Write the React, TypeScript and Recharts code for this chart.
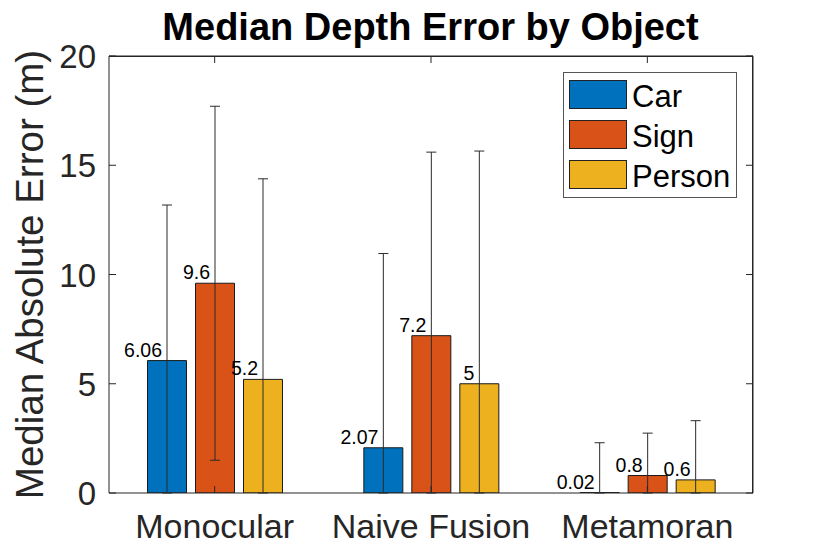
import React from 'react';
import { BarChart, Bar, XAxis, YAxis, ErrorBar, LabelList, Legend } from 'recharts';

const categories = ['Monocular', 'Naive Fusion', 'Metamoran'];
const carValues = [6.06, 2.07, 0.02];
const signValues = [9.6, 7.2, 0.8];
const personValues = [5.2, 5, 0.6];
const carErr = [7.12, 8.89, 2.28];
const signErr = [8.1, 8.4, 1.94];
const personErr = [9.18, 10.65, 2.71];
const yTicks = [0, 5, 10, 15, 20];
const seriesNames = ['Car', 'Sign', 'Person'];
const seriesColors = ['#0072BD', '#D95319', '#EDB120'];

const clipErr = (v: number, e: number) => [Math.min(v, e), e];

const data = categories.map((name, i) => ({
  name,
  car: carValues[i],
  sign: signValues[i],
  person: personValues[i],
  carErr: clipErr(carValues[i], carErr[i]),
  signErr: clipErr(signValues[i], signErr[i]),
  personErr: clipErr(personValues[i], personErr[i]),
}));

const FONT = "'Liberation Sans', Arial, Helvetica, sans-serif";
const AXIS = '#262626';

const YTick = (props: any) => {
  const { x, y, payload } = props;
  return (
    <g>
      <line x1={x + 13} x2={x + 20} y1={y} y2={y} stroke={AXIS} strokeWidth={1} />
      <text x={x} y={y} dy={12} textAnchor="end" fontSize={33} fontFamily={FONT} fill={AXIS}>
        {payload.value}
      </text>
    </g>
  );
};

const XTick = (props: any) => {
  const { x, y, payload } = props;
  return (
    <g>
      <line x1={x} x2={x} y1={y} y2={y - 7} stroke={AXIS} strokeWidth={1} />
      <text x={x} y={y + 45} textAnchor="middle" fontSize={34} fontFamily={FONT} fill={AXIS}>
        {payload.value}
      </text>
    </g>
  );
};

const TopTick = (props: any) => {
  const { x, y } = props;
  return <line x1={x} x2={x} y1={y} y2={y + 7} stroke={AXIS} strokeWidth={1} />;
};

const RightTick = (props: any) => {
  const { x, y } = props;
  return <line x1={x} x2={x - 7} y1={y} y2={y} stroke={AXIS} strokeWidth={1} />;
};

const ValueLabel = (props: any) => {
  const { x, y, width, value } = props;
  return (
    <text x={x + width / 2 - 5} y={y - 4} textAnchor="end" fontSize={19.5} fontFamily={FONT} fill="#000">
      {String(value)}
    </text>
  );
};

const YLabel = (props: any) => {
  const vb = props.viewBox || { x: 0, y: 57, width: 109, height: 436 };
  const cx = 43;
  const cy = vb.y + vb.height / 2;
  return (
    <text
      x={cx}
      y={cy}
      transform={`rotate(-90, ${cx}, ${cy})`}
      textAnchor="middle"
      fontSize={38.5}
      fontFamily={FONT}
      fill={AXIS}
    >
      Median Absolute Error (m)
    </text>
  );
};

const LegendBox = () => (
  <div
    style={{
      position: 'relative',
      width: 174,
      height: 126,
      border: '1px solid #555',
      boxSizing: 'border-box',
      background: '#fff',
      fontFamily: FONT,
    }}
  >
    {seriesNames.map((n, i) => (
      <React.Fragment key={n}>
        <div
          style={{
            position: 'absolute',
            left: 5,
            top: 7 + i * 40,
            width: 58,
            height: 29,
            background: seriesColors[i],
            border: '1px solid #222',
            boxSizing: 'border-box',
          }}
        />
        <div
          style={{
            position: 'absolute',
            left: 68,
            top: 8 + i * 40,
            fontSize: 31,
            lineHeight: '31px',
            color: '#000',
            whiteSpace: 'nowrap',
          }}
        >
          {n}
        </div>
      </React.Fragment>
    ))}
  </div>
);

export default function App() {
  const pad = { left: -2.5, right: -2.5 };
  return (
    <div style={{ position: 'absolute', left: 0, top: 0, width: 830, height: 554, background: '#fff' }}>
      <div
        style={{
          position: 'absolute',
          left: 109,
          width: 643,
          top: 8,
          textAlign: 'center',
          fontFamily: FONT,
          fontWeight: 'bold',
          fontSize: 38,
          lineHeight: '38px',
          color: '#000',
          whiteSpace: 'nowrap',
          zIndex: 2,
        }}
      >
        Median Depth Error by Object
      </div>
      {/* axes box frame (top and right edges) */}
      <div
        style={{
          position: 'absolute',
          left: 109,
          top: 56,
          width: 644,
          height: 437,
          borderTop: `1px solid ${AXIS}`,
          borderRight: `1px solid ${AXIS}`,
          boxSizing: 'border-box',
          pointerEvents: 'none',
          zIndex: 3,
        }}
      />
      <BarChart
        width={830}
        height={554}
        data={data}
        margin={{ top: 0, right: 0, bottom: 0, left: 0 }}
        barSize={39}
        barGap={9}
      >
        <XAxis
          dataKey="name"
          height={61}
          interval={0}
          padding={pad}
          tickSize={0}
          tickMargin={0}
          tickLine={false}
          tick={<XTick />}
          axisLine={{ stroke: AXIS, strokeWidth: 1 }}
        />
        <XAxis
          xAxisId="top"
          dataKey="name"
          orientation="top"
          height={56}
          interval={0}
          padding={pad}
          tickSize={0}
          tickMargin={0}
          tickLine={false}
          tick={<TopTick />}
          axisLine={{ stroke: AXIS, strokeWidth: 1 }}
        />
        <YAxis
          width={109}
          domain={[0, 20]}
          ticks={yTicks}
          allowDataOverflow
          tickSize={0}
          tickMargin={13}
          tickLine={false}
          tick={<YTick />}
          axisLine={{ stroke: AXIS, strokeWidth: 1 }}
          label={<YLabel />}
        />
        <YAxis
          yAxisId="right"
          orientation="right"
          width={77}
          domain={[0, 20]}
          ticks={yTicks}
          allowDataOverflow
          tickSize={0}
          tickMargin={0}
          tickLine={false}
          tick={<RightTick />}
          axisLine={{ stroke: AXIS, strokeWidth: 1 }}
        />
        <Legend
          layout="horizontal"
          verticalAlign="middle"
          align="center"
          wrapperStyle={{ position: 'absolute', left: 563, top: 72, width: 174, height: 126 }}
          content={() => <LegendBox />}
        />
        <Bar dataKey="car" name="Car" fill={seriesColors[0]} stroke="#1a1a1a" strokeWidth={1} isAnimationActive={false}>
          <ErrorBar dataKey="carErr" width={5} stroke="#2b2b2b" strokeWidth={1} direction="y" />
          <LabelList dataKey="car" content={<ValueLabel />} />
        </Bar>
        <Bar dataKey="sign" name="Sign" fill={seriesColors[1]} stroke="#1a1a1a" strokeWidth={1} isAnimationActive={false}>
          <ErrorBar dataKey="signErr" width={5} stroke="#2b2b2b" strokeWidth={1} direction="y" />
          <LabelList dataKey="sign" content={<ValueLabel />} />
        </Bar>
        <Bar dataKey="person" name="Person" fill={seriesColors[2]} stroke="#1a1a1a" strokeWidth={1} isAnimationActive={false}>
          <ErrorBar dataKey="personErr" width={5} stroke="#2b2b2b" strokeWidth={1} direction="y" />
          <LabelList dataKey="person" content={<ValueLabel />} />
        </Bar>
        <Bar
          xAxisId="top"
          yAxisId="right"
          dataKey="car"
          fill="none"
          stroke="none"
          legendType="none"
          isAnimationActive={false}
        />
      </BarChart>
    </div>
  );
}
